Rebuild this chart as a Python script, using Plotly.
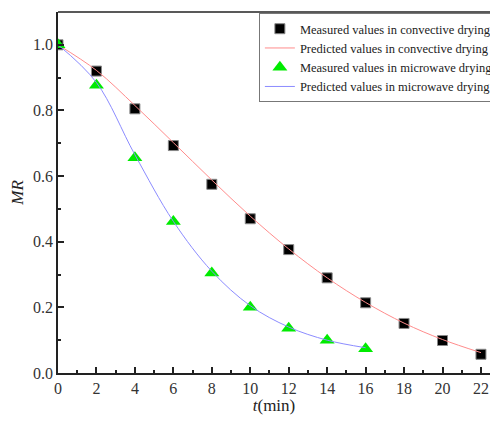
import plotly.graph_objects as go

t_conv = [0, 2, 4, 6, 8, 10, 12, 14, 16, 18, 20, 22]
mr_conv_meas = [1.0, 0.92, 0.805, 0.693, 0.575, 0.47, 0.376, 0.29, 0.214, 0.151, 0.099, 0.057]
mr_conv_pred = [1.0, 0.922, 0.815, 0.702, 0.588, 0.478, 0.378, 0.29, 0.215, 0.152, 0.102, 0.062]

t_mw = [0, 2, 4, 6, 8, 10, 12, 14, 16]
mr_mw_meas = [1.0, 0.877, 0.656, 0.462, 0.305, 0.2, 0.136, 0.1, 0.074]
mr_mw_pred = [1.0, 0.885, 0.665, 0.462, 0.31, 0.205, 0.14, 0.1, 0.077]

x_ticks = list(range(0, 24, 2))
y_ticks = [0.0, 0.2, 0.4, 0.6, 0.8, 1.0]

FONT = "Liberation Serif"

fig = go.Figure()
fig.add_trace(go.Scatter(x=t_conv, y=mr_conv_meas, mode="markers",
                         name="Measured values in convective drying",
                         marker=dict(symbol="square", size=10, color="black",
                                     line=dict(color="#888", width=1))))
fig.add_trace(go.Scatter(x=t_conv, y=mr_conv_pred, mode="lines",
                         name="Predicted values in convective drying",
                         line=dict(color="rgb(255,140,140)", width=1, shape="spline")))
fig.add_trace(go.Scatter(x=t_mw, y=mr_mw_meas, mode="markers",
                         name="Measured values in microwave drying",
                         marker=dict(symbol="triangle-up", size=13, color="rgb(0,235,0)",
                                     line=dict(width=0))))
fig.add_trace(go.Scatter(x=t_mw, y=mr_mw_pred, mode="lines",
                         name="Predicted values in microwave drying",
                         line=dict(color="rgb(140,140,255)", width=1, shape="spline")))

axis_common = dict(showline=True, linecolor="#222", linewidth=1.5, ticks="inside",
                   ticklen=6, tickwidth=1.5, tickcolor="#222", showgrid=False,
                   zeroline=False, tickfont=dict(family=FONT, size=16, color="#333"))

fig.update_xaxes(range=[0, 22.47], tickvals=x_ticks, ticktext=[str(v) for v in x_ticks],
                 minor=dict(dtick=1, ticks="inside", ticklen=3, tickwidth=1.5, tickcolor="#222"),
                 title=dict(text="<i>t</i>(min)", font=dict(family=FONT, size=17, color="#222"),
                            standoff=11),
                 **axis_common)
fig.update_yaxes(range=[0, 1.1], tickvals=y_ticks, ticktext=[f"{v:.1f}" for v in y_ticks],
                 minor=dict(dtick=0.1, ticks="inside", ticklen=3, tickwidth=1.5, tickcolor="#222"),
                 title=dict(text="<i>MR</i>", font=dict(family=FONT, size=17, color="#222"),
                            standoff=8),
                 **axis_common)

fig.add_shape(type="line", xref="paper", yref="paper", x0=0, x1=1, y0=1, y1=1,
              line=dict(color="#222", width=1.5))

fig.update_layout(
    width=482, height=407,
    margin=dict(l=50, r=0, t=4, b=42, autoexpand=False),
    plot_bgcolor="white", paper_bgcolor="white",
    showlegend=True,
    legend=dict(x=0.465, y=0.997, xanchor="left", yanchor="top",
                bgcolor="white", bordercolor="#777", borderwidth=1,
                font=dict(family=FONT, size=12.5, color="#222"),
                tracegroupgap=0, itemwidth=30),
)

fig.write_html("out.html")
